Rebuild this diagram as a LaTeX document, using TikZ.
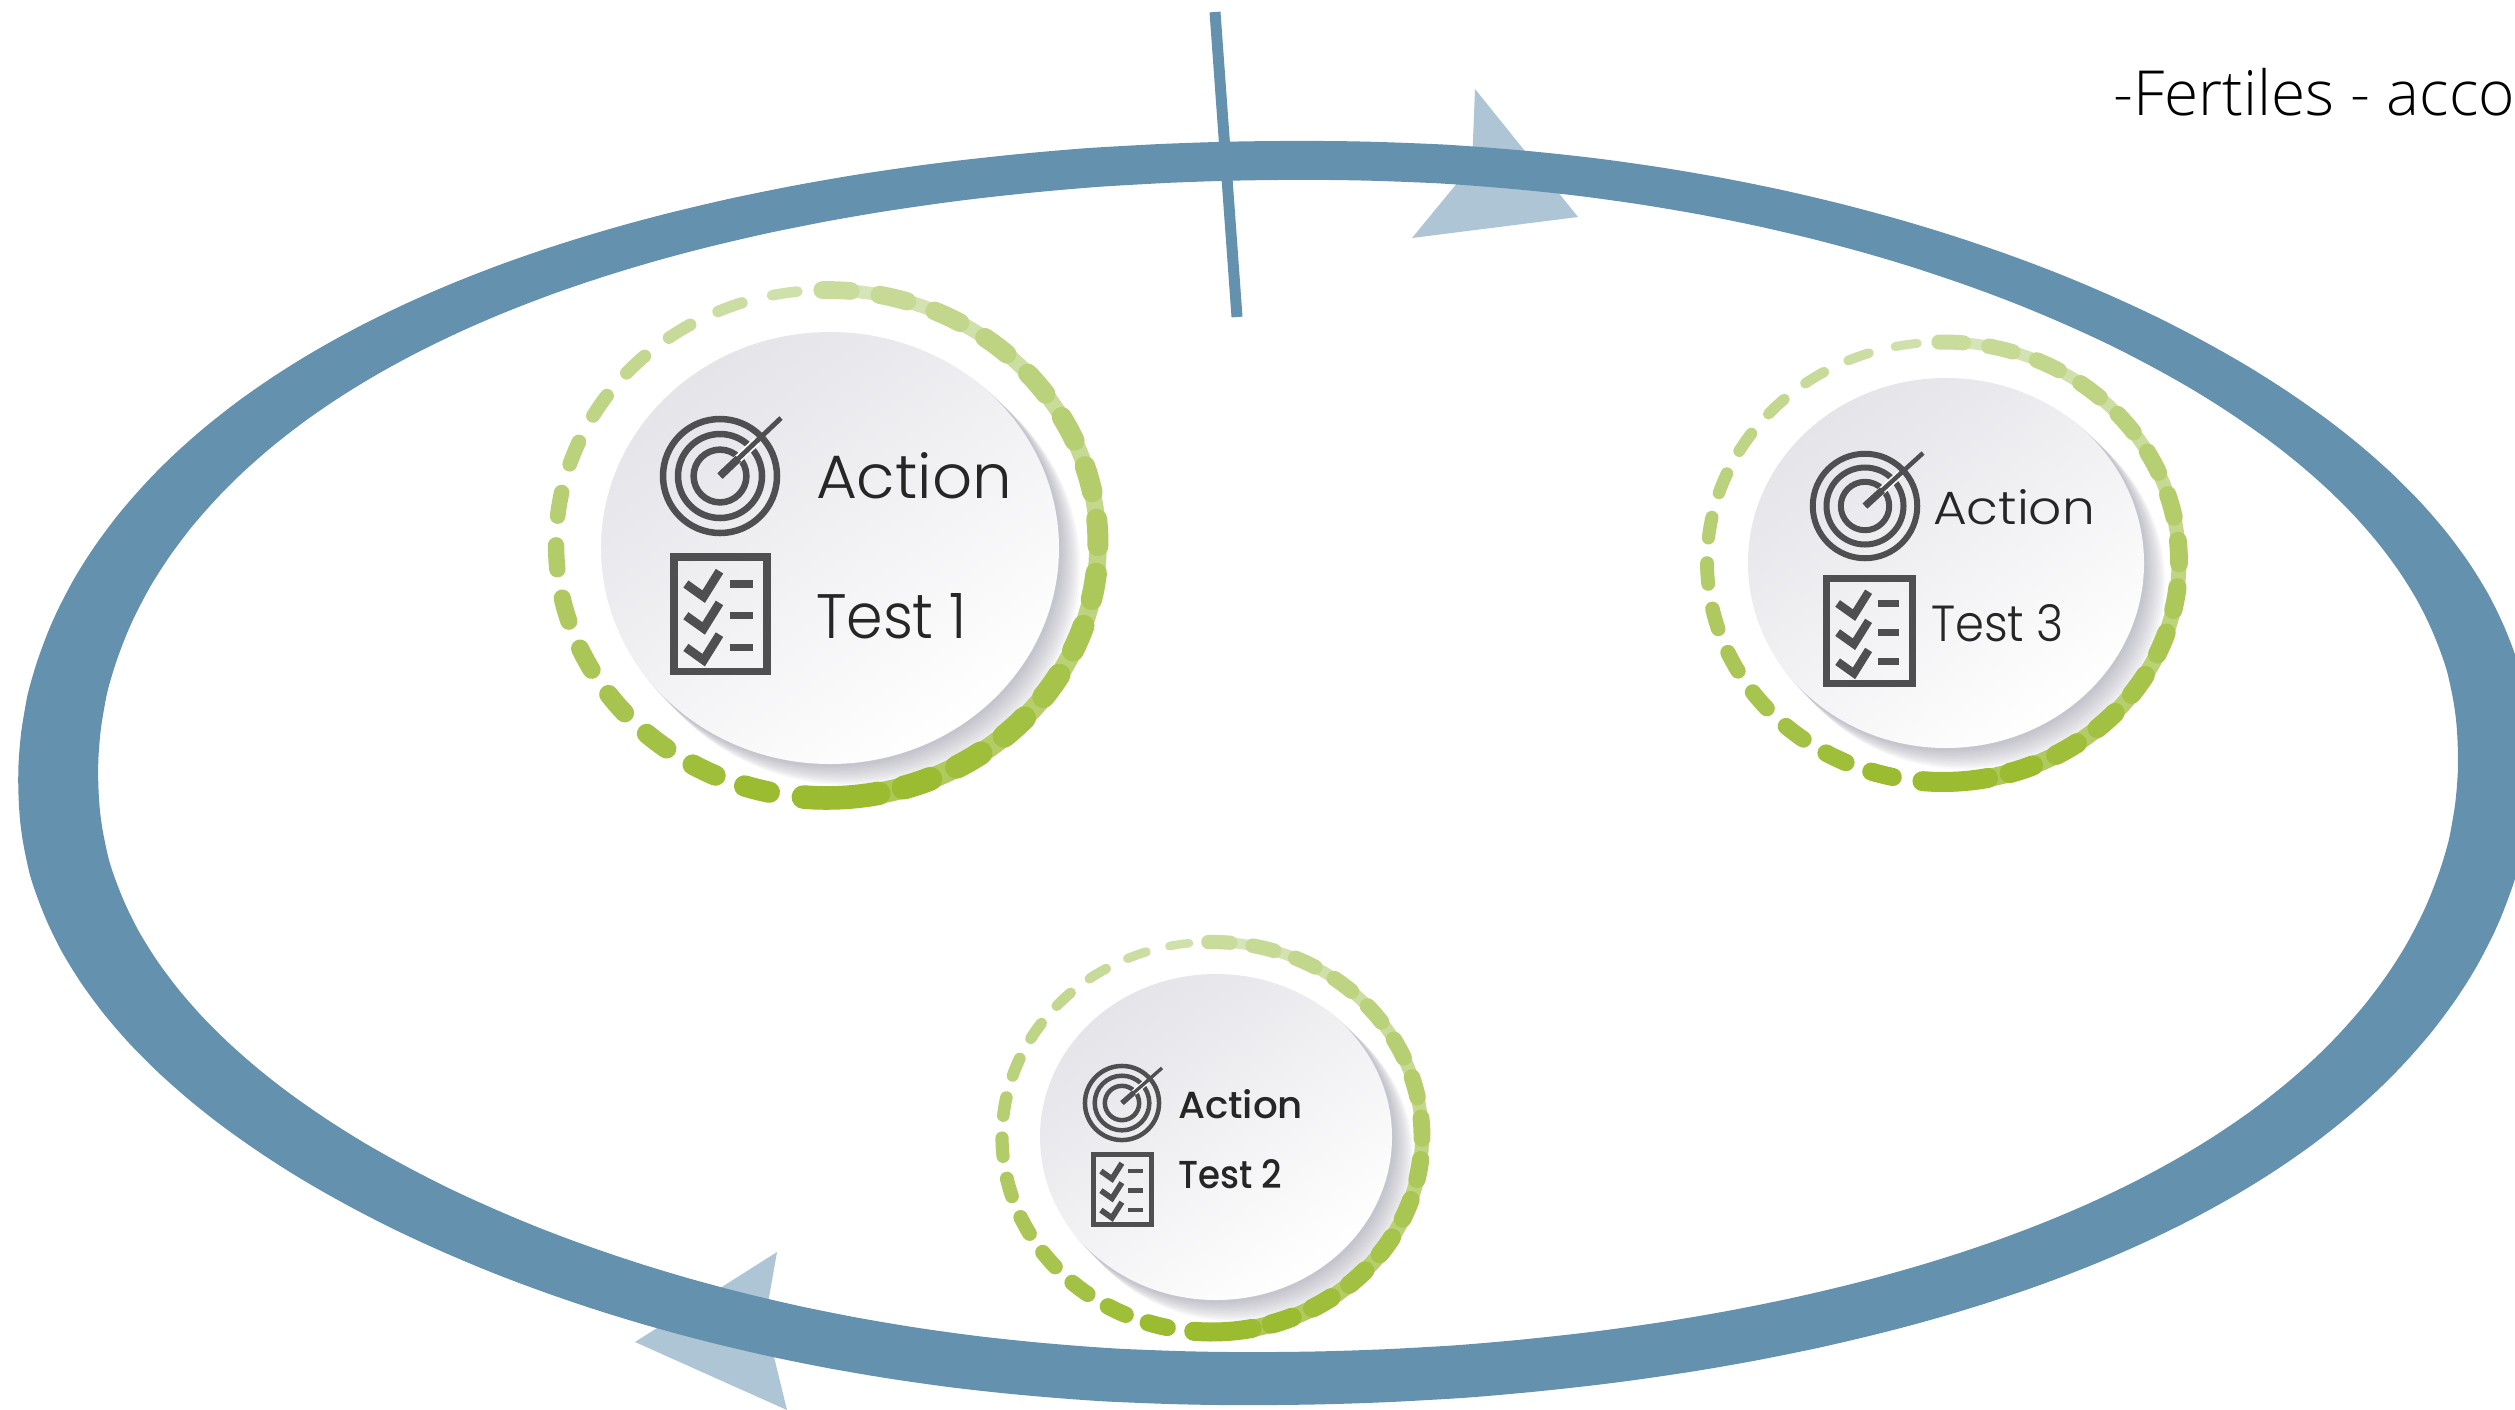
\documentclass[tikz,border=0pt]{standalone}
\usepackage{fontspec}
\usepackage{graphicx}
\setmainfont{Liberation Sans}
\newfontfamily\plight{Poppins Light}
\newfontfamily\preg{Poppins Medium}
\newfontfamily\capfont{Open Sans Light}
\definecolor{ringblue}{HTML}{6491AD}
\definecolor{arrowblue}{HTML}{ADC5D4}
\definecolor{gl}{HTML}{CFE0AB}
\definecolor{gd}{HTML}{9BBB30}
\definecolor{iconc}{HTML}{4F4F52}
\definecolor{txtc}{HTML}{262626}
\definecolor{shadowc}{HTML}{8E8E9E}
\definecolor{DiscA}{HTML}{E4E4E9}
\definecolor{DiscB}{HTML}{FAFAFB}
\tikzset{
  bandring/.style={fill=ringblue,draw=none,even odd rule},
  headtip/.style={fill=arrowblue,draw=none},
  ticks/.style={line width=11pt,draw=ringblue},
  labeltxt/.style={anchor=base west,inner sep=0pt,outer sep=0pt,text=txtc},
}
% dashed ring: cx cy rx ry widthfactor
\newcommand{\dashring}[5]{%
  \foreach \ii [evaluate=\ii as \pp using int(\ii*100/13),
                evaluate=\ii as \ww using (9+\ii*0.7)*#5,
                evaluate=\ii as \aa using 99+12*\ii-2.7,
                evaluate=\ii as \bb using 99+12*\ii+2.7] in {0,...,13}{
    \draw[line width=\ww pt,line cap=round,color=gd!\pp!gl]
      plot[domain=\aa:\bb,samples=6] ({#1+#3*cos(\x)},{#2-#4*sin(\x)});
  }
  \foreach \ii [evaluate=\ii as \pp using int(\ii*100/14),
                evaluate=\ii as \ww using (11+\ii*0.55)*#5,
                evaluate=\ii as \aa using 91-12.2*\ii,
                evaluate=\ii as \bb using 91-12.2*(\ii+1)] in {0,...,14}{
    \draw[line width=\ww pt,line cap=butt,color=gd!\pp!gl!85!white]
      plot[domain=\aa:\bb,samples=6] ({#1+#3*cos(\x)},{#2-#4*sin(\x)});
  }
  \foreach \ii [evaluate=\ii as \pp using int(\ii*100/13),
                evaluate=\ii as \ww using (15+\ii*0.4)*#5,
                evaluate=\ii as \aa using 88-12.2*\ii-3,
                evaluate=\ii as \bb using 88-12.2*\ii+3] in {0,...,13}{
    \draw[line width=\ww pt,line cap=round,color=gd!\pp!gl!88!gd]
      plot[domain=\aa:\bb,samples=6] ({#1+#3*cos(\x)},{#2-#4*sin(\x)});
  }
  \draw[line width={20*#5 pt},line cap=round,color=gd]
    plot[domain=265:281,samples=8] ({#1+#3*cos(\x)},{#2-#4*sin(\x)});
}
% disc with shadow: cx cy rx ry
\newcommand{\softdisc}[4]{%
  \foreach \kk in {1,...,12}{
    \fill[shadowc,opacity=0.05] ({#1+\kk*1.7},{#2+\kk*1.7}) ellipse ({#3+1} and {#4+1});
  }
  \shade[top color=DiscA,middle color=DiscB,bottom color=white,shading angle=35]
    (#1,#2) ellipse (#3 and #4);
}
% target icon: cx cy r tipx tipy lw
\newcommand{\targeticon}[6]{%
  \foreach \fr in {0.95,0.70,0.44}{
    \draw[iconc,line width=#6 pt] (#1,#2) ellipse ({#3*\fr} and {#3*\fr});
  }
  \draw[white,line width={#6*1.3 pt}] ({#1+0.08*(#4-#1)},{#2+0.08*(#5-#2)}) -- ({#1+0.6*(#4-#1)},{#2+0.6*(#5-#2)});
  \draw[iconc,line width={#6*0.75 pt}] (#1,#2) -- (#4,#5);
  \draw[iconc,line width={#6*1.2 pt}] (#1,#2) -- ({#1+0.3*(#4-#1)},{#2+0.3*(#5-#2)});
}
% checklist icon: x y w h lw
\newcommand{\checkicon}[5]{%
  \begin{scope}[shift={(#1,#2)},xscale=#3,yscale=#4]
    \draw[iconc,line width={#5*1.1 pt}] (0.04,0.03) rectangle (0.96,0.97);
    \foreach \rr in {0,1,2}{
      \draw[iconc,line width={#5*1.25 pt},line join=miter] (0.157,{0.254+0.26*\rr}) -- (0.333,{0.358+0.26*\rr}) -- (0.49,{0.149+0.26*\rr});
      \draw[iconc,line width={#5*1.05 pt}] (0.59,{0.254+0.26*\rr}) -- (0.82,{0.254+0.26*\rr});
    }
  \end{scope}
}
% skewed superellipse outline: cx cy rx ry
\newcommand{\superpath}[4]{%
  plot[domain=0:360,samples=241,smooth] ({#1+#3*sign(cos(\x))*pow(abs(cos(\x))+0.00001,0.97+0.035*sin(2*\x))},{#2-#4*sign(sin(\x))*pow(abs(sin(\x))+0.00001,0.97+0.035*sin(2*\x))}) -- cycle
}
\begin{document}
\begin{tikzpicture}[x=1pt,y=-1pt]
\useasboundingbox (0,0) rectangle (2515,1409);
\clip (0,0) rectangle (2515,1409);
\fill[white] (0,0) rectangle (2515,1409);

% arrow heads under the ring
\coordinate (ha) at (1475,89);
\coordinate (hb) at (1578,217);
\coordinate (hc) at (1412,238);
\coordinate (hd) at (1472,165);
\fill[headtip] (ha) -- (hb) -- (hc) -- (hd) -- cycle;
\coordinate (ka) at (777,1252);
\coordinate (kb) at (635,1342);
\coordinate (kc) at (787,1410);
\coordinate (kd) at (765,1320);
\fill[headtip] (ka) -- (kb) -- (kc) -- (kd) -- cycle;

% big ring
\begin{scope}[rotate around={0.6:(1276,760)}]
  \fill[bandring] \superpath{1275}{773}{1257}{632} \superpath{1278}{766}{1180}{586};
\end{scope}

% tick
\coordinate (ta) at (1215,12);
\coordinate (tb) at (1237,317);
\draw[ticks] (ta) -- (tb);

% badge 1
\softdisc{830}{548}{229}{216}
\dashring{827}{544}{271}{254}{1.18}
\targeticon{720}{476}{60}{781}{418}{6.5}
\checkicon{670}{553}{101}{122}{7}
\node[labeltxt] (act1) at (816,498) {\resizebox{196pt}{46pt}{\plight Action}};
\node[labeltxt] (tst1) at (816,638) {\resizebox{151pt}{45pt}{\plight Test 1}};

% badge 3
\softdisc{1946}{563}{198}{185}
\dashring{1943}{562}{236}{220}{1}
\targeticon{1865}{506}{55}{1923}{453}{6}
\checkicon{1823}{575}{93}{112}{6.5}
\node[labeltxt] (act3) at (1933,524) {\resizebox{162pt}{35pt}{\plight Action}};
\node[labeltxt] (tst3) at (1931,641) {\resizebox{133pt}{37pt}{\plight Test 3}};

% badge 2
\softdisc{1216}{1137}{176}{163}
\dashring{1212}{1137}{210}{195}{0.95}
\targeticon{1122}{1103}{39}{1162}{1068}{4.5}
\checkicon{1091}{1152}{63}{75}{4.5}
\node[labeltxt] (act2) at (1178,1118) {\resizebox{125pt}{29pt}{\preg Action}};
\node[labeltxt] (tst2) at (1178,1188) {\resizebox{104pt}{29pt}{\preg Test 2}};

% cut-off caption
\node[anchor=base west,inner sep=0pt,text=black] (cap) at (2113,115) {\resizebox{402pt}{!}{\capfont -Fertiles - acco}};
\end{tikzpicture}
\end{document}
